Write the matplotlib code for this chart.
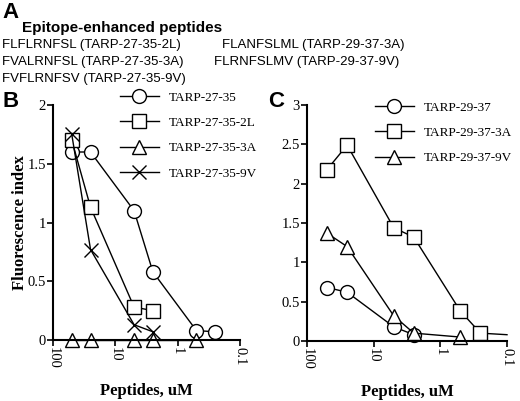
import matplotlib
matplotlib.use("Agg")
import matplotlib.pyplot as plt
from matplotlib.ticker import NullLocator, FixedLocator

conc = [50, 25, 5, 2.5, 0.5, 0.25]
b_27_35 = [1.6, 1.6, 1.1, 0.58, 0.08, 0.07]
b_2L_x = [50, 25, 5, 2.5]
b_2L = [1.7, 1.13, 0.28, 0.25]
b_3A_x = [50, 25, 5, 2.5, 0.5]
b_3A = [0, 0, 0, 0, 0]
b_9V_x = [50, 25, 5, 2.5]
b_9V = [1.75, 0.77, 0.13, 0.07]

c_29_x = [50, 25, 5, 2.5]
c_29 = [0.68, 0.62, 0.18, 0.08]
c_3A_x = [50, 25, 5, 2.5, 0.5, 0.25, 0.1]
c_3A = [2.18, 2.49, 1.44, 1.32, 0.38, 0.1, 0.08]
c_9V_x = [50, 25, 5, 2.5, 0.5]
c_9V = [1.37, 1.2, 0.32, 0.1, 0.05]

W, H = 520, 401
fig = plt.figure(figsize=(5.2, 4.01), dpi=100)
serif = "Liberation Serif"

def ax_at(l, r, b, t):
    return fig.add_axes([l / W, 1 - b / H, (r - l) / W, (b - t) / H])

def style(ax, ymax, yticks, ylabels):
    ax.set_xscale("log")
    ax.set_xlim(100, 0.1)
    ax.set_ylim(0, ymax)
    ax.xaxis.set_major_locator(FixedLocator([100, 10, 1, 0.1]))
    ax.xaxis.set_minor_locator(NullLocator())
    ax.set_xticklabels(["100", "10", "1", "0.1"], rotation=270, family=serif, fontsize=10.5)
    ax.set_yticks(yticks)
    ax.set_yticklabels(ylabels, family=serif, fontsize=10.5)
    for s in ["top", "right"]:
        ax.spines[s].set_visible(False)
    for s in ["left", "bottom"]:
        ax.spines[s].set_linewidth(1.5)
    ax.tick_params(length=4, width=1.2, pad=1)
    ax.set_xlabel("Peptides, uM", family=serif, fontsize=12, fontweight="bold", labelpad=10)
    ax.patch.set_alpha(0)

mk = dict(color="black", lw=1, mfc="white", mec="black", ms=10, mew=1, clip_on=False)
leg = dict(frameon=False, handlelength=2.9, labelspacing=1.0, borderaxespad=0, handletextpad=0.8,
           prop={"family": serif, "size": 9.5})

axB = ax_at(53, 240, 340, 105)
axB.plot(conc, b_27_35, marker="o", label="TARP-27-35", **mk)
axB.plot(b_2L_x, b_2L, marker="s", label="TARP-27-35-2L", **mk)
axB.plot(b_3A_x, b_3A, marker="^", label="TARP-27-35-3A", **mk)
axB.plot(b_9V_x, b_9V, marker="x", label="TARP-27-35-9V", **mk)
style(axB, 2, [0, 0.5, 1, 1.5, 2], ["0", "0.5", "1", "1.5", "2"])
axB.set_ylabel("Fluorescence index", family=serif, fontsize=12, fontweight="bold", labelpad=0)
axB.legend(loc="upper left", bbox_to_anchor=(115 / W, 1 - 86 / H), bbox_transform=fig.transFigure, **leg)

axC = ax_at(307, 507, 341, 105)
axC.plot(c_29_x, c_29, marker="o", label="TARP-29-37", **mk)
axC.plot(c_3A_x, c_3A, marker="s", markevery=list(range(6)), label="TARP-29-37-3A", **mk)
axC.plot(c_9V_x, c_9V, marker="^", label="TARP-29-37-9V", **mk)
style(axC, 3, [0, 0.5, 1, 1.5, 2, 2.5, 3], ["0", "0.5", "1", "1.5", "2", "2.5", "3"])
axC.legend(loc="upper left", bbox_to_anchor=(370 / W, 1 - 96 / H), bbox_transform=fig.transFigure, **leg)

def t(x, y, s, **kw):
    fig.text(x / W, 1 - y / H, s, va="center", ha="left", **kw)

t(2, 12, "A", fontsize=16, fontweight="bold", family="Liberation Sans")
t(22, 28, "Epitope-enhanced peptides", fontsize=11, fontweight="bold", family="Liberation Sans")
sans = dict(fontsize=9.5, family="Liberation Sans")
t(2, 45, "FLFLRNFSL (TARP-27-35-2L)", **sans)
t(2, 62, "FVALRNFSL (TARP-27-35-3A)", **sans)
t(2, 79, "FVFLRNFSV (TARP-27-35-9V)", **sans)
t(222, 45, "FLANFSLML (TARP-29-37-3A)", **sans)
t(214, 62, "FLRNFSLMV (TARP-29-37-9V)", **sans)
t(2, 102, "B", fontsize=16, fontweight="bold", family="Liberation Sans")
t(268, 102, "C", fontsize=16, fontweight="bold", family="Liberation Sans")

fig.savefig("out.png", dpi=100)
